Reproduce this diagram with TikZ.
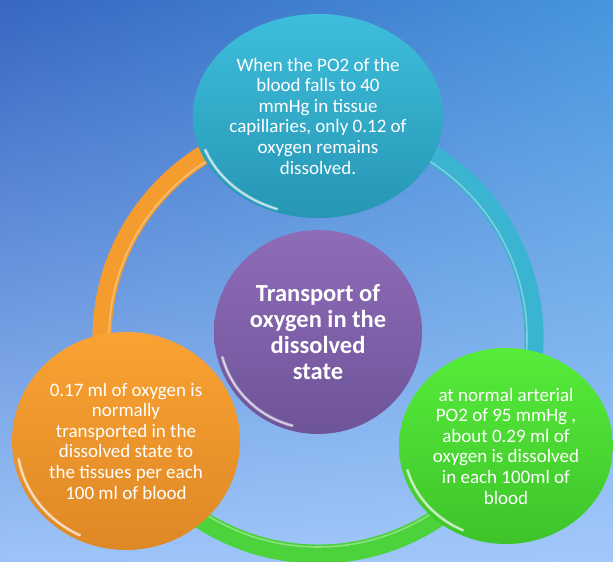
\documentclass[tikz,border=0pt]{standalone}
\usepackage{fontspec}
\setmainfont{Carlito}
\usetikzlibrary{shapes.geometric,shadings}
\definecolor{bgUL}{RGB}{56,102,194}
\definecolor{bgUR}{RGB}{70,150,220}
\definecolor{bgLL}{RGB}{156,196,248}
\definecolor{bgLR}{RGB}{162,200,250}
\definecolor{cyanT}{RGB}{62,190,220}
\definecolor{cyanB}{RGB}{38,150,180}
\definecolor{purT}{RGB}{142,108,184}
\definecolor{purB}{RGB}{110,84,152}
\definecolor{oraT}{RGB}{250,162,50}
\definecolor{oraB}{RGB}{222,136,38}
\definecolor{grnT}{RGB}{86,236,58}
\definecolor{grnB}{RGB}{62,196,42}
\definecolor{ringO}{RGB}{244,156,45}
\definecolor{ringC}{RGB}{58,180,208}
\definecolor{ringG}{RGB}{76,210,58}
\begin{document}
\begin{tikzpicture}[x=1pt,y=1pt,
  bubble/.style={ellipse, inner sep=0pt, text=white, align=center,
    font=\fontsize{19}{20.6}\selectfont},
  ringseg/.style={line width=19pt},
  rim/.style={white, opacity=0.45, line width=3pt, line cap=round},
  rimcore/.style={white, opacity=0.6, line width=1.2pt, line cap=round},
  ringhl/.style={white, opacity=0.35, line width=1.6pt}
]
\shade[upper left=bgUL, upper right=bgUR, lower left=bgLL, lower right=bgLR]
  (0,0) rectangle (613,562);
\useasboundingbox (0,0) rectangle (613,562);

\coordinate (rc) at (318,224);
\draw[ringseg, ringO] ([shift={(90:216)}]rc) arc[start angle=90, end angle=209, radius=216];
\draw[ringseg, ringG] ([shift={(209:216)}]rc) arc[start angle=209, end angle=331, radius=216];
\draw[ringseg, ringC] ([shift={(331:216)}]rc) arc[start angle=331, end angle=450, radius=216];
\draw[ringhl] (rc) circle[radius=209];

\node[bubble, minimum width=250pt, minimum height=204pt, top color=cyanT, bottom color=cyanB]
  (t) at (318,446) {When the PO2 of the\\blood falls to 40\\mmHg in tissue\\capillaries, only 0.12 of\\oxygen remains\\dissolved.};
\node[bubble, minimum width=208pt, minimum height=204pt, top color=purT, bottom color=purB,
  font=\bfseries\fontsize{24.5}{26}\selectfont]
  (c) at (318,230) {Transport of\\oxygen in the\\dissolved\\state};
\node[bubble, minimum width=228pt, minimum height=218pt, top color=oraT, bottom color=oraB]
  (o) at (126,121) {0.17 ml of oxygen is\\normally\\transported in the\\dissolved state to\\the tissues per each\\100 ml of blood};
\node[bubble, minimum width=214pt, minimum height=196pt, top color=grnT, bottom color=grnB]
  (g) at (506,116) {at normal arterial\\PO2 of 95 mmHg ,\\about 0.29 ml of\\oxygen is dissolved\\in each 100ml of\\blood};

\foreach \s in {rim,rimcore}{
\draw[\s] (t.center) ++(200:120 and 99) arc[start angle=200, end angle=250, x radius=120, y radius=99];
\draw[\s] (c.center) ++(195:99 and 97) arc[start angle=195, end angle=255, x radius=99, y radius=97];
\draw[\s] (o.center) ++(190:109 and 104) arc[start angle=190, end angle=245, x radius=109, y radius=104];
\draw[\s] (g.center) ++(195:102 and 93) arc[start angle=195, end angle=245, x radius=102, y radius=93];
}
\end{tikzpicture}
\end{document}
